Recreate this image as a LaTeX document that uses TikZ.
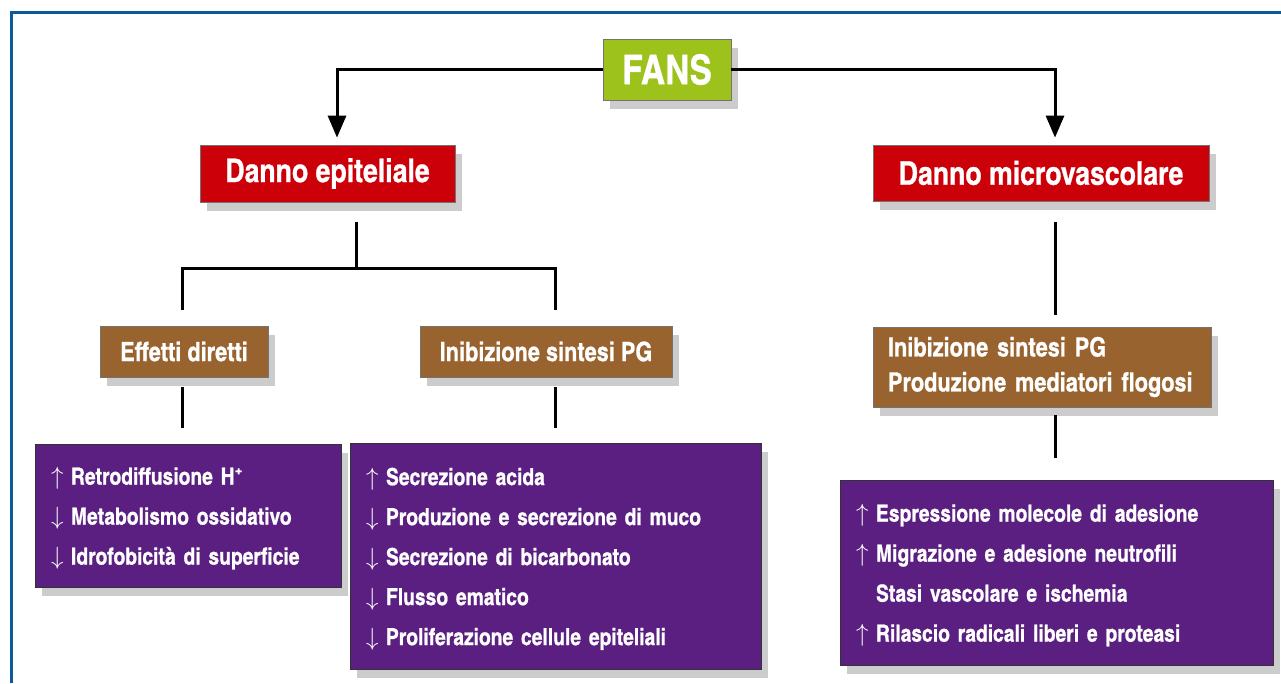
\documentclass[tikz,border=0pt]{standalone}
\usepackage{fontspec}
\newfontfamily\cnfont[FakeBold=0.8]{texgyreheroscn-bold.otf}
\usepackage{tikz}
\usetikzlibrary{positioning,calc,shadows,arrows.meta}

\definecolor{fansgreen}{HTML}{9CC21B}
\definecolor{dannored}{HTML}{CC0008}
\definecolor{effbrown}{HTML}{99632F}
\definecolor{listpurple}{HTML}{5A1F80}
\definecolor{frameblue}{HTML}{0B5A9F}

\newcommand{\incr}{\makebox[20pt][l]{\fontsize{29}{29}\selectfont$\uparrow$}}
\newcommand{\decr}{\makebox[20pt][l]{\fontsize{29}{29}\selectfont$\downarrow$}}
\newcommand{\noarr}{\hspace*{20pt}}
\newcommand{\lead}{\rule{0pt}{23pt}}

\tikzset{
  box/.style={draw=black!55, line width=0.8pt, text=white, inner sep=0pt,
    drop shadow={shadow xshift=7pt, shadow yshift=-9pt, opacity=0.2, fill=black}},
  topbox/.style={box, fill=fansgreen, font=\cnfont\fontsize{41}{41}\selectfont},
  dannobox/.style={box, fill=dannored, font=\cnfont\fontsize{32.5}{32.5}\selectfont},
  effbox/.style={box, fill=effbrown, font=\cnfont\fontsize{26.5}{35}\selectfont},
  listbox/.style={box, fill=listpurple, draw=black!80, align=left, inner xsep=16pt,
    font=\cnfont\fontsize{23.5}{40}\selectfont},
  link/.style={line width=3pt},
  feed/.style={link, -{Triangle[width=18pt,length=22pt]}},
}

\begin{document}
\begin{tikzpicture}[x=1pt, y=-1pt]
    \useasboundingbox (0,0) rectangle (1281,683);
    % frame
    \draw[frameblue, line width=3pt] (11,683) |- (1281,12.5);

    % columns of the connectors
    \coordinate (colA) at (182,0);
    \coordinate (colB) at (356,0);
    \coordinate (colC) at (555,0);
    \coordinate (colD) at (1055,0);
    \coordinate (colL) at (337,0);
    \coordinate (bar) at (0,268);

    % top
    \node[topbox, minimum width=128pt, minimum height=61pt] (fans) at (667,69.5) {FANS};
    \node[dannobox, minimum width=255pt, minimum height=57pt] (epi) at (327.5,173.5) {Danno epiteliale};
    \node[dannobox, minimum width=336pt, minimum height=56pt] (micro) at (1041,173) {Danno microvascolare};

    % middle
    \node[effbox, minimum width=168pt, minimum height=51pt] (eff) at (184,351.5) {Effetti diretti};
    \node[effbox, minimum width=252pt, minimum height=51pt] (pg) at (546,351.5) {Inibizione sintesi PG};
    \node[effbox, align=left, inner xsep=15pt, text width=308pt, minimum height=80pt] (pg2) at (1042,367)
        {Inibizione sintesi PG\\ Produzione mediatori flogosi};

    % lists
    \node[listbox, text width=274pt, minimum height=143pt] (list1) at (188,515.5)
        {\lead\incr Retrodiffusione H\textsuperscript{+}\\
         \decr Metabolismo ossidativo\\
         \decr Idrofobicità di superficie};
    \node[listbox, text width=379pt, minimum height=226pt] (list2) at (555.5,556)
        {\lead\incr Secrezione acida\\
         \decr Produzione e secrezione di muco\\
         \decr Secrezione di bicarbonato\\
         \decr Flusso ematico\\
         \decr Proliferazione cellule epiteliali};
    \node[listbox, text width=401pt, minimum height=185pt] (list3) at (1056.5,572.5)
        {\lead\incr Espressione molecole di adesione\\
         \incr Migrazione e adesione neutrofili\\
         \noarr Stasi vascolare e ischemia\\
         \incr Rilascio radicali liberi e proteasi};

    % connectors
    \draw[feed, shorten >=7pt] (fans.west) -| (epi.north -| colL);
    \draw[feed, shorten >=7pt] (fans.east) -| (micro.north -| colD);
    \draw[link, shorten <=20pt] (epi.south -| colB) -- (bar -| colB);
    \draw[link, shorten <=16pt, shorten >=16pt] (eff.north -| colA) |- (bar -| colB) -| (pg.north -| colC);
    \draw[link, shorten <=10pt, shorten >=16pt] (eff.south -| colA) -- (list1.north -| colA);
    \draw[link, shorten <=10pt, shorten >=15pt] (pg.south -| colC) -- (list2.north -| colC);
    \draw[link, shorten <=21pt, shorten >=12pt] (micro.south -| colD) -- (pg2.north -| colD);
    \draw[link, shorten <=8pt, shorten >=22pt] (pg2.south -| colD) -- (list3.north -| colD);
\end{tikzpicture}
\end{document}
